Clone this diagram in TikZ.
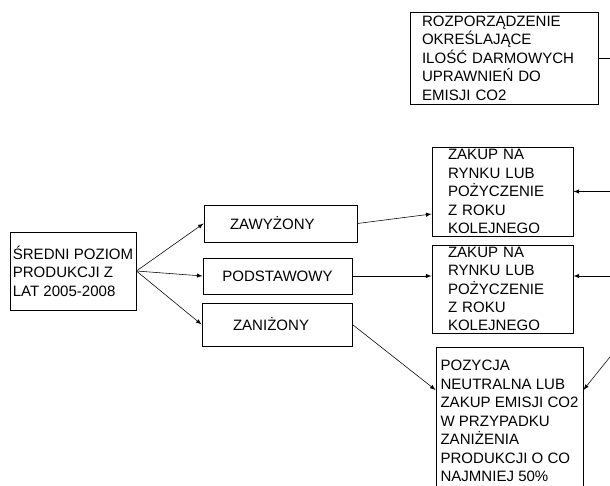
\documentclass[tikz,border=0pt]{standalone}
\usepackage{fontspec}
\setmainfont{Liberation Sans}

\begin{document}
\begin{tikzpicture}[
  blok/.style={%
    rectangle,%
    draw=black,
    %draw=gray!80,
    semithick,%
    align=left,
    inner xsep=2pt,
    inner ysep=0.5pt,
    font=\fontsize{10.7}{13.1}\selectfont%
  },
  strzalka/.style={%
    -latex,%
    %gray!70,
    thin%
  }
]

  \clip (0,0) rectangle (15.25,12.125);

  \node [blok, text width=4.1cm,   inner xsep=0.3cm,  minimum height=2.3cm]   (rozp)    at (12.6,10.675)    {ROZPORZĄDZENIE\\OKREŚLAJĄCE\\ILOŚĆ DARMOWYCH\\UPRAWNIEŃ DO\\EMISJI CO2};
  \node [blok, minimum width=3.1cm,   minimum height=1.95cm]  (sredni)  at (1.825,5.35)     {ŚREDNI POZIOM\\PRODUKCJI Z\\LAT 2005-2008};
  \node [blok, text width=2.525cm, inner xsep=0.65cm, minimum height=0.925cm] (zawy)    at (7.0125,6.5375)  {ZAWYŻONY};
  \node [blok, minimum width=3.725cm, minimum height=0.9cm]   (podst)   at (6.9375,5.225)   {PODSTAWOWY};
  \node [blok, text width=2.2cm,   inner xsep=0.775cm, minimum height=1.075cm] (zani)    at (6.925,4.0125)   {ZANIŻONY};
  \node [blok, text width=2.725cm, inner xsep=0.4cm,  minimum height=2.225cm] (zakup1)  at (12.5625,7.3375) {ZAKUP NA\\RYNKU LUB\\POŻYCZENIE\\Z ROKU\\KOLEJNEGO};
  \node [blok, text width=2.725cm, inner xsep=0.4cm,  minimum height=2.2cm]   (zakup2)  at (12.5625,4.9)    {ZAKUP NA\\RYNKU LUB\\POŻYCZENIE\\Z ROKU\\KOLEJNEGO};
  \node [blok, minimum width=3.675cm, minimum height=3.7cm]   (pozycja) at (12.7375,1.6)    {POZYCJA\\NEUTRALNA LUB\\ZAKUP EMISJI CO2\\W PRZYPADKU\\ZANIŻENIA\\PRODUKCJI O CO\\NAJMNIEJ 50\%};

  % wolne konce po prawej
  \coordinate (r1) at (15.3,10.675);
  \coordinate (r2) at (15.3,7.3375);
  \coordinate (r3) at (15.3,5.225);
  \coordinate (r4) at (15.3,3.265);

  \draw[strzalka] (sredni.east) -- (zawy.west);
  \draw[strzalka] (sredni.east) -- (podst.west);
  \draw[strzalka] (sredni.east) -- (zani.west);

  \draw[strzalka] (zawy.east) -- ([yshift=-0.5625cm]zakup1.west);
  \draw[strzalka] (podst.east) -- (podst.east -| zakup2.west);
  \draw[strzalka] (zani.east) -- ([yshift=0.775cm]pozycja.west);

  \draw[thin] (rozp.east) -- (r1);
  \draw[strzalka] (r2) -- (zakup1.east);
  \draw[strzalka] (r3) -- (r3 -| zakup2.east);
  \draw[strzalka] (r4) -- ([yshift=0.775cm]pozycja.east);

\end{tikzpicture}
\end{document}
